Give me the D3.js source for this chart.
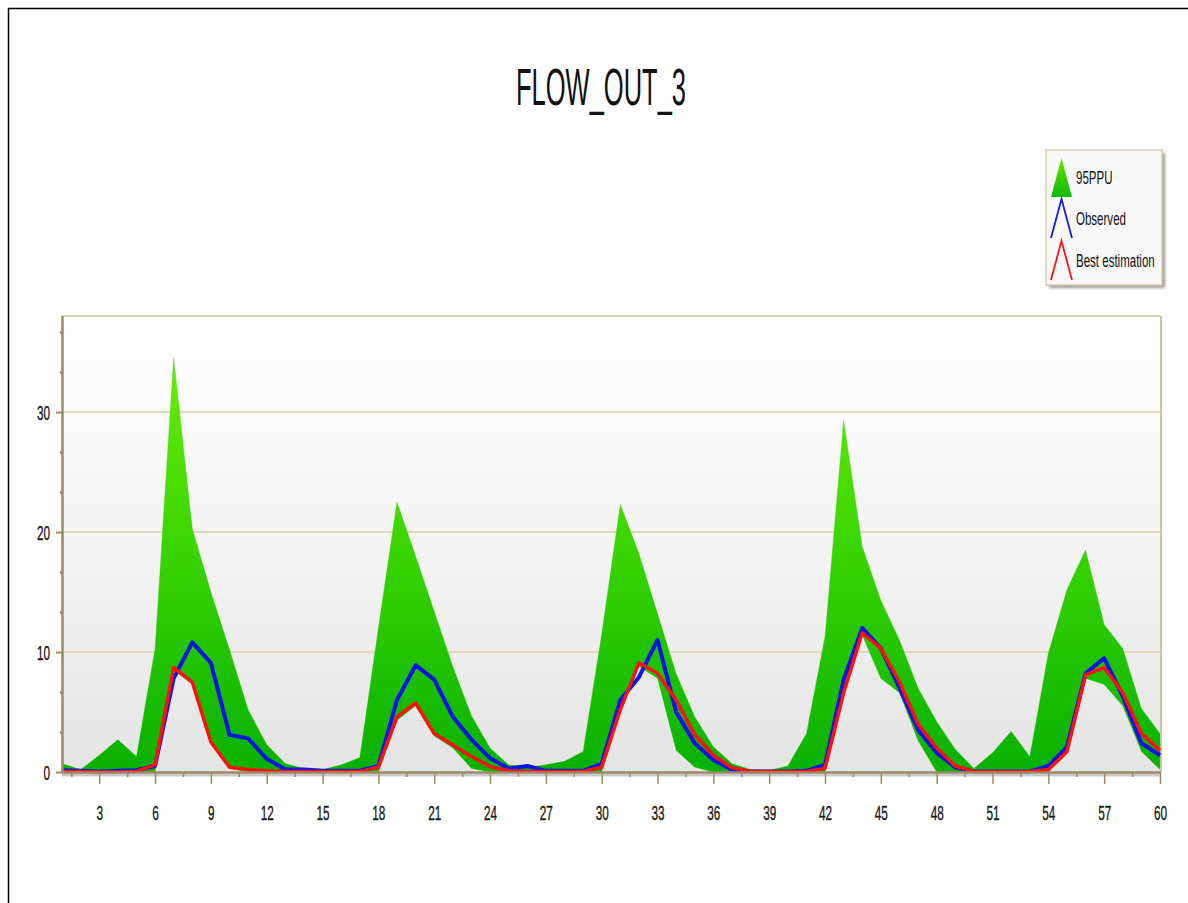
<!DOCTYPE html>
<html>
<head>
<meta charset="utf-8">
<script src="https://cdn.jsdelivr.net/npm/d3@7/dist/d3.min.js"></script>
<style>
  body { margin: 0; background: #ffffff; }
  svg { display: block; font-family: "Liberation Sans", Arial, sans-serif; }
</style>
</head>
<body>
<svg id="chart" width="1188" height="903"></svg>
<script>
// Time steps of the simulation
const steps = d3.range(1, 61);

// 95PPU band limits
const upper95 = [0.7, 0.2, 1.4, 2.7, 1.3, 10.3, 34.5, 20.3, 15.0, 10.2,
                 5.2, 2.3, 0.7, 0.3, 0.2, 0.6, 1.2, 12.0, 22.5, 18.0,
                 13.4, 8.8, 4.7, 2.0, 0.6, 0.4, 0.6, 0.9, 1.7, 11.5,
                 22.3, 18.2, 13.2, 8.2, 4.6, 2.1, 0.7, 0.2, 0.15, 0.5,
                 3.2, 11.3, 29.3, 18.8, 14.3, 11.0, 7.0, 4.2, 1.9, 0.3,
                 1.6, 3.4, 1.3, 9.9, 15.2, 18.5, 12.3, 10.3, 5.3, 3.2];
const lower95 = [0, 0, 0, 0, 0, 0, 8.5, 7.3, 2.3, 0.3,
                 0, 0, 0, 0, 0, 0, 0, 0, 4.3, 5.5,
                 3.0, 2.0, 0.3, 0, 0, 0, 0, 0, 0, 0,
                 5.0, 8.8, 7.8, 1.8, 0.4, 0, 0, 0, 0, 0,
                 0, 0, 6.4, 11.4, 7.8, 6.6, 2.6, 0, 0, 0,
                 0, 0, 0, 0, 1.5, 7.8, 7.3, 5.5, 1.7, 0.2];

// Observed flow
const observed = [0.15, 0.1, 0.05, 0.1, 0.15, 0.5, 7.8, 10.8, 9.1, 3.1,
                  2.8, 1.1, 0.2, 0.2, 0.1, 0.1, 0.1, 0.5, 6.0, 8.9,
                  7.7, 4.6, 2.7, 1.15, 0.3, 0.5, 0.1, 0.1, 0.1, 0.7,
                  6.0, 7.9, 11.0, 5.0, 2.4, 1.0, 0.2, 0.05, 0.05, 0.05,
                  0.1, 0.6, 7.7, 12.0, 10.3, 7.0, 3.5, 1.6, 0.4, 0.05,
                  0.05, 0.05, 0.05, 0.5, 2.1, 8.2, 9.5, 6.3, 2.4, 1.4];

// Best estimation (simulated flow)
const bestEstimation = [0.05, 0.05, 0, 0, 0.05, 0.6, 8.7, 7.5, 2.5, 0.4,
                        0.2, 0.1, 0.05, 0.05, 0.05, 0.05, 0.05, 0.4, 4.6, 5.75,
                        3.2, 2.25, 1.3, 0.45, 0.1, 0.05, 0.05, 0.05, 0.05, 0.4,
                        5.2, 9.1, 8.2, 6.0, 3.1, 1.4, 0.35, 0.05, 0.05, 0.05,
                        0.05, 0.3, 6.6, 11.6, 10.3, 7.5, 4.0, 2.0, 0.5, 0.05,
                        0.05, 0.05, 0.05, 0.2, 1.7, 8.1, 8.7, 6.6, 3.2, 1.8];

// Axis ticks
const yMajorTicks = [0, 10, 20, 30];
const yMinorTicks = d3.range(0, 38, 10 / 3).filter(v => Math.abs(v % 10) > 0.01 && Math.abs(v % 10 - 10) > 0.01);
const xMajorTicks = d3.range(3, 61, 3);
const xMinorTicks = d3.range(1.5, 60, 3);

const chartTitle = "FLOW_OUT_3";
const legendLabels = ["95PPU", "Observed", "Best estimation"];

const svg = d3.select("#chart");
const W = 1188, H = 903;
const plot = { left: 62, right: 1161, top: 316, bottom: 772 };
const textScale = 0.56;

const x = d3.scaleLinear().domain([1, 60]).range([plot.left, plot.right - 1]);
const y = d3.scaleLinear().domain([0, 38]).range([plot.bottom, plot.top]);

const defs = svg.append("defs");
const bgGrad = defs.append("linearGradient").attr("id", "plotBg")
  .attr("x1", 0).attr("y1", 0).attr("x2", 0).attr("y2", 1);
bgGrad.append("stop").attr("offset", "0%").attr("stop-color", "#ffffff");
bgGrad.append("stop").attr("offset", "55%").attr("stop-color", "#f3f3f3");
bgGrad.append("stop").attr("offset", "100%").attr("stop-color", "#e4e4e4");

const greenGrad = defs.append("linearGradient").attr("id", "bandFill")
  .attr("gradientUnits", "userSpaceOnUse")
  .attr("x1", 0).attr("x2", 0).attr("y1", y(35)).attr("y2", y(0));
greenGrad.append("stop").attr("offset", "0%").attr("stop-color", "#6cec00");
greenGrad.append("stop").attr("offset", "45%").attr("stop-color", "#3cd600");
greenGrad.append("stop").attr("offset", "100%").attr("stop-color", "#08b000");

const legGreen = defs.append("linearGradient").attr("id", "legendGreen")
  .attr("x1", 0).attr("y1", 0).attr("x2", 0).attr("y2", 1);
legGreen.append("stop").attr("offset", "0%").attr("stop-color", "#66e800");
legGreen.append("stop").attr("offset", "100%").attr("stop-color", "#10b800");

const legShadow = defs.append("filter").attr("id", "legShadow")
  .attr("x", "-10%").attr("y", "-10%").attr("width", "130%").attr("height", "130%");
legShadow.append("feGaussianBlur").attr("stdDeviation", 1.5);

// Outer frame (top and left edges)
svg.append("line").attr("x1", 8).attr("x2", W).attr("y1", 8.5).attr("y2", 8.5)
  .attr("stroke", "#000").attr("stroke-width", 1.5);
svg.append("line").attr("x1", 8.5).attr("x2", 8.5).attr("y1", 8).attr("y2", H)
  .attr("stroke", "#000").attr("stroke-width", 1.5);

// Title
svg.append("text")
  .attr("transform", `translate(601,105) scale(0.5,1)`)
  .attr("text-anchor", "middle")
  .attr("font-size", 51)
  .attr("fill", "#111")
  .text(chartTitle);

// Plot background
svg.append("rect")
  .attr("x", plot.left).attr("y", plot.top)
  .attr("width", plot.right - plot.left).attr("height", plot.bottom - plot.top)
  .attr("fill", "url(#plotBg)");

// Gridlines
svg.append("g").selectAll("line")
  .data(yMajorTicks.filter(v => v > 0))
  .join("line")
  .attr("x1", plot.left).attr("x2", plot.right)
  .attr("y1", d => y(d)).attr("y2", d => y(d))
  .attr("stroke", "#e2d6bd").attr("stroke-width", 2);

// Plot frame (top and right)
svg.append("line").attr("x1", plot.left).attr("x2", plot.right)
  .attr("y1", plot.top).attr("y2", plot.top)
  .attr("stroke", "#dccfb2").attr("stroke-width", 2);
svg.append("line").attr("x1", plot.right).attr("x2", plot.right)
  .attr("y1", plot.top).attr("y2", plot.bottom)
  .attr("stroke", "#cfc4ae").attr("stroke-width", 2);

const idx = d3.range(steps.length);

// 95PPU band
const band = d3.area()
  .x(i => x(steps[i]))
  .y0(i => y(lower95[i]))
  .y1(i => y(upper95[i]));
svg.append("path")
  .datum(idx)
  .attr("d", band)
  .attr("fill", "url(#bandFill)")
  .attr("stroke", "#3ccc10").attr("stroke-width", 0.6).attr("stroke-opacity", 0.5);

// Observed and best estimation lines
const lineOf = arr => d3.line().x(i => x(steps[i])).y(i => y(arr[i]));
svg.append("path")
  .datum(idx)
  .attr("d", lineOf(observed))
  .attr("fill", "none")
  .attr("stroke", "#0a14e6").attr("stroke-width", 4)
  .attr("stroke-linejoin", "round");
svg.append("path")
  .datum(idx)
  .attr("d", lineOf(bestEstimation))
  .attr("fill", "none")
  .attr("stroke", "#ff1010").attr("stroke-width", 3.5)
  .attr("stroke-linejoin", "round");

// Axis shadow under the baseline
svg.append("line").attr("x1", plot.left).attr("x2", plot.right)
  .attr("y1", plot.bottom + 3).attr("y2", plot.bottom + 3)
  .attr("stroke", "#c9c9c9").attr("stroke-width", 3);

const axisColor = "#9c8866";

// X axis: minor ticks
const xMinor = svg.append("g").attr("transform", `translate(0,${plot.bottom})`)
  .call(d3.axisBottom(x).tickValues(xMinorTicks).tickSize(5).tickFormat(""));
xMinor.select(".domain").remove();
xMinor.selectAll("line").attr("stroke", axisColor).attr("stroke-width", 1.5);

// X axis: major ticks with labels
const xMajor = svg.append("g").attr("transform", `translate(0,${plot.bottom})`)
  .call(d3.axisBottom(x).tickValues(xMajorTicks).tickSize(12).tickPadding(8).tickFormat(d3.format("d")));
xMajor.select(".domain").attr("d", `M${plot.left},0.5H${plot.right}`)
  .attr("stroke", axisColor).attr("stroke-width", 2.5);
xMajor.selectAll("line").attr("stroke", axisColor).attr("stroke-width", 1.5);
xMajor.selectAll("text")
  .attr("font-size", 21).attr("fill", "#1a1a1a")
  .attr("stroke", "#1a1a1a").attr("stroke-width", 0.4)
  .attr("font-family", "'Liberation Sans', Arial, sans-serif")
  .attr("y", 0).attr("dy", null)
  .attr("transform", `translate(0,48) scale(${textScale},1)`);

// Y axis: minor ticks
const yMinor = svg.append("g").attr("transform", `translate(${plot.left},0)`)
  .call(d3.axisLeft(y).tickValues(yMinorTicks).tickSize(2).tickFormat(""));
yMinor.select(".domain").remove();
yMinor.selectAll("line").attr("stroke", "#6b5a40").attr("stroke-width", 2);

// Y axis: major ticks with labels
const yMajor = svg.append("g").attr("transform", `translate(${plot.left},0)`)
  .call(d3.axisLeft(y).tickValues(yMajorTicks).tickSize(6).tickPadding(10).tickFormat(d3.format("d")));
yMajor.select(".domain").attr("d", `M0.5,${plot.top}V${plot.bottom}`)
  .attr("stroke", axisColor).attr("stroke-width", 2.5);
yMajor.selectAll("line").attr("stroke", axisColor).attr("stroke-width", 2);
yMajor.selectAll("text")
  .attr("font-size", 21).attr("fill", "#1a1a1a")
  .attr("stroke", "#1a1a1a").attr("stroke-width", 0.4)
  .attr("font-family", "'Liberation Sans', Arial, sans-serif")
  .attr("x", 0).attr("dy", "0.36em")
  .attr("transform", `translate(-12,0) scale(${textScale},1)`);

// Legend
const leg = { x: 1046, y: 150, w: 116, h: 135 };
const legendG = svg.append("g");
legendG.append("rect")
  .attr("x", leg.x + 3).attr("y", leg.y + 3).attr("width", leg.w).attr("height", leg.h)
  .attr("fill", "#9a9a9a").attr("filter", "url(#legShadow)");
legendG.append("rect")
  .attr("x", leg.x).attr("y", leg.y).attr("width", leg.w).attr("height", leg.h)
  .attr("fill", "#f8f8f8").attr("stroke", "#d9ccb0").attr("stroke-width", 1.5);

const legendRows = [
  { label: legendLabels[0], cy: 178, kind: "fill", color: "url(#legendGreen)" },
  { label: legendLabels[1], cy: 219, kind: "line", color: "#1a1ae8" },
  { label: legendLabels[2], cy: 261, kind: "line", color: "#f01818" }
];
legendRows.forEach(r => {
  const x0 = 1051, x1 = 1072, top = r.cy - 20, bot = r.cy + 19;
  const pts = `${x0},${bot} ${(x0 + x1) / 2},${top} ${x1},${bot}`;
  if (r.kind === "fill") {
    legendG.append("polygon").attr("points", pts).attr("fill", r.color);
  } else {
    legendG.append("polyline").attr("points", pts)
      .attr("fill", "none").attr("stroke", r.color).attr("stroke-width", 1.8);
  }
  legendG.append("text")
    .attr("transform", `translate(1076,${r.cy + 6}) scale(0.64,1)`)
    .attr("font-size", 18).attr("fill", "#111")
    .text(r.label);
});
</script>
</body>
</html>
